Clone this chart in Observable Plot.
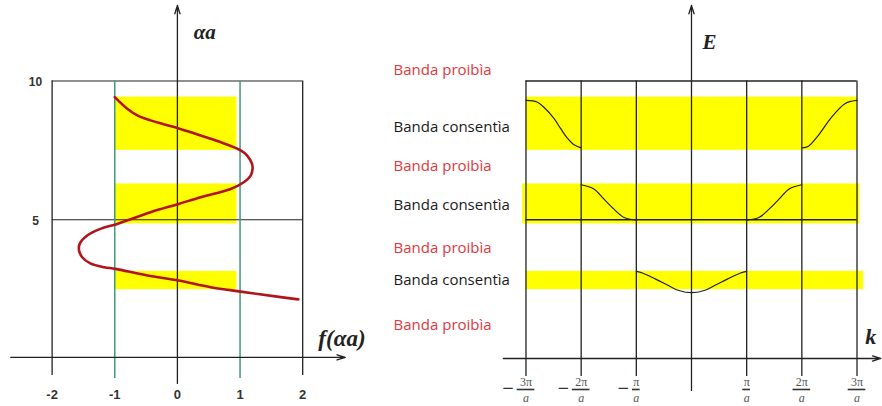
<!DOCTYPE html>
<html>
<head>
<meta charset="utf-8">
<script src="https://cdn.jsdelivr.net/npm/d3@7"></script>
<script src="https://cdn.jsdelivr.net/npm/@observablehq/plot@0.6"></script>
<style>
  html, body { margin: 0; padding: 0; background: #fff; }
  #wrap { position: relative; width: 882px; height: 406px; overflow: hidden; }
  #wrap svg { position: absolute; top: 0; overflow: visible; }
</style>
</head>
<body>
<div id="wrap"></div>
<script>
// Kronig–Penney model: f(αa) versus αa (left) and the band structure E(k) (right)

// ---- left panel ----
const fTicks = [-2, -1, 0, 1, 2];
const aTicks = [5, 10];
// allowed bands (αa ranges where |f| <= 1)
const bandLo = [7.5, 4.85, 2.48];
const bandHi = [9.42, 6.29, 3.14];
// f(αa) traced from top to bottom
const curveF = [-1.0, -0.80, -0.64, -0.43, -0.22, 0.02, 0.26, 0.53, 0.79, 1.01, 1.11, 1.19, 1.20, 1.17, 1.06, 0.85, 0.37, 0.02, -0.43, -0.96, -1.23, -1.44, -1.56, -1.57, -1.52, -1.39, -1.17, -0.99, -0.48, 0.02, 0.53, 1.01, 1.65, 1.93];
const curveA = [9.42, 9.0, 8.76, 8.58, 8.44, 8.29, 8.12, 7.92, 7.71, 7.50, 7.32, 7.02, 6.84, 6.59, 6.35, 6.11, 5.81, 5.57, 5.27, 4.85, 4.67, 4.43, 4.13, 3.89, 3.65, 3.43, 3.29, 3.23, 2.99, 2.81, 2.57, 2.41, 2.21, 2.13];

// ---- right panel ----
const kLines = [-3, -2, -1, 1, 2, 3];
const kNum = ["3π", "2π", "π", "π", "2π", "3π"];
const bandKFrom = [-3, -3.06, -3];
const bandKTo = [3, 3.05, 3.12];
// E(k) branches, one per allowed band segment
const b1LeftK = [-3, -2.8, -2.68, -2.49, -2.37, -2.25, -2.13, -2];
const b1LeftE = [9.30, 9.24, 9.06, 8.64, 8.28, 7.94, 7.70, 7.59];
const b1RightK = [2, 2.12, 2.30, 2.54, 2.78, 2.9, 3];
const b1RightE = [7.59, 7.65, 8.04, 8.70, 9.18, 9.27, 9.30];
const b2LeftK = [-2, -1.77, -1.59, -1.41, -1.23, -1.05, -1];
const b2LeftE = [6.26, 6.11, 5.75, 5.39, 5.09, 5.0, 5.0];
const b2RightK = [1, 1.05, 1.23, 1.41, 1.59, 1.77, 2];
const b2RightE = [5.0, 5.0, 5.09, 5.39, 5.75, 6.11, 6.26];
const b3K = [-1, -0.89, -0.65, -0.41, -0.23, 0, 0.23, 0.41, 0.65, 0.89, 1];
const b3E = [3.14, 3.08, 2.86, 2.62, 2.45, 2.37, 2.45, 2.62, 2.86, 3.08, 3.14];
// band labels: text and energy level
const labelText = ["Banda proibìa", "Banda consentìa", "Banda proibìa", "Banda consentìa", "Banda proibìa", "Banda consentìa", "Banda proibìa"];
const labelE = [10.38, 8.32, 6.92, 5.51, 3.96, 2.81, 1.19];

// ---- derived tables ----
const bands = bandLo.map((lo, i) => ({lo, hi: bandHi[i], k1: bandKFrom[i], k2: bandKTo[i]}));
const curve = curveF.map((f, i) => ({f, a: curveA[i]}));
const branch = (ks, es, id) => ks.map((k, i) => ({k, E: es[i], id}));
const branches = [
  ...branch(b1LeftK, b1LeftE, "b1l"), ...branch(b1RightK, b1RightE, "b1r"),
  ...branch(b2LeftK, b2LeftE, "b2l"), ...branch(b2RightK, b2RightE, "b2r"),
  ...branch(b3K, b3E, "b3")
];
const kTicks = kLines.map((k, i) => ({k, num: kNum[i]}));
const labels = labelText.map((t, i) => ({t, E: labelE[i], forbidden: t.includes("proib")}));

const yDomain = [-1.73, 12.9];
const INK = "#222";
const GREEN = "#3f9a7b";
const YELLOW = "#ffff00";
const SERIF = "'Liberation Serif', 'DejaVu Serif', serif";
const half = d => (d.num.length > 1 ? 0.16 : 0.07);

const left = Plot.plot({
  width: 380, height: 406, margin: 0,
  style: {background: "transparent", overflow: "visible"},
  x: {domain: [-2.824, 3.242], axis: null},
  y: {domain: yDomain, axis: null},
  marks: [
    Plot.rect(bands, {x1: () => -1, x2: () => 0.95, y1: "lo", y2: "hi", fill: YELLOW}),
    // frame lines at αa = 5 and 10
    Plot.ruleY(aTicks, {x1: () => -2, x2: () => 2, y: d => d, stroke: INK, strokeWidth: 1.2}),
    // verticals at f = ±2 (black) and ±1 (green)
    Plot.ruleX(fTicks.filter(d => Math.abs(d) === 2), {x: d => d, y1: () => -0.61, y2: () => 10, stroke: INK, strokeWidth: 1.3}),
    Plot.ruleX(fTicks.filter(d => Math.abs(d) === 1), {x: d => d, y1: () => -0.72, y2: () => 10, stroke: GREEN, strokeWidth: 1.5}),
    // axes
    Plot.arrow([{x1: -2.66, x2: 2.68, y1: 0.04, y2: 0.04}], {x1: "x1", x2: "x2", y1: "y1", y2: "y2", stroke: INK, strokeWidth: 1.3, headLength: 10, headAngle: 35}),
    Plot.arrow([{x1: 0, x2: 0, y1: -0.9, y2: 12.72}], {x1: "x1", x2: "x2", y1: "y1", y2: "y2", stroke: INK, strokeWidth: 1.3, headLength: 10, headAngle: 35}),
    Plot.line(curve, {x: "f", y: "a", curve: "catmull-rom", stroke: "#b3141c", strokeWidth: 2.6}),
    // tick labels
    Plot.text(fTicks, {x: d => d, y: () => 0, dy: 36, text: d => String(d), fontFamily: "'Liberation Sans', Arial, sans-serif", fontWeight: "bold", fontSize: 13, fill: "#333"}),
    Plot.text(aTicks, {x: () => -2.265, y: d => d, dy: 1, text: d => String(d), fontFamily: "'Liberation Sans', Arial, sans-serif", fontWeight: "bold", fontSize: 12, fill: "#333"}),
    // axis titles
    Plot.text(["αa"], {x: () => 0.26, y: () => 11.75, text: d => d, textAnchor: "start", fontFamily: SERIF, fontStyle: "italic", fontWeight: "bold", fontSize: 21, fill: INK}),
    Plot.text(["f(αa)"], {x: () => 2.25, y: () => 0.72, text: d => d, textAnchor: "start", fontFamily: SERIF, fontStyle: "italic", fontWeight: "bold", fontSize: 23, fill: INK})
  ]
});

const right = Plot.plot({
  width: 502, height: 406, margin: 0,
  style: {background: "transparent", overflow: "visible"},
  x: {domain: [-5.637, 3.462], axis: null},
  y: {domain: yDomain, axis: null},
  marks: [
    Plot.rect(bands, {x1: "k1", x2: "k2", y1: "lo", y2: "hi", fill: YELLOW}),
    Plot.ruleY(aTicks, {x1: () => -3, x2: () => 3, y: d => d, stroke: INK, strokeWidth: 1.3}),
    Plot.ruleX(kTicks, {x: "k", y1: () => -0.65, y2: () => 10, stroke: INK, strokeWidth: 1.3}),
    Plot.arrow([{x1: -3.41, x2: 3.43, y1: 0, y2: 0}], {x1: "x1", x2: "x2", y1: "y1", y2: "y2", stroke: INK, strokeWidth: 1.3, headLength: 10, headAngle: 35}),
    Plot.arrow([{x1: 0, x2: 0, y1: -1.15, y2: 12.72}], {x1: "x1", x2: "x2", y1: "y1", y2: "y2", stroke: INK, strokeWidth: 1.3, headLength: 10, headAngle: 35}),
    Plot.line(branches, {x: "k", y: "E", z: "id", curve: "catmull-rom", stroke: INK, strokeWidth: 1.2}),
    // band names
    Plot.text(labels, {x: () => -5.4, y: "E", text: "t", textAnchor: "start", fontFamily: "'Open Sans', sans-serif", fontSize: 15, fill: d => d.forbidden ? "#e0393e" : "#1a1a1a"}),
    // k tick labels: ±nπ/a as stacked fractions
    Plot.text(kTicks, {x: "k", y: () => 0, dy: 24, text: "num", fontFamily: SERIF, fontSize: 12, fill: "#555"}),
    Plot.ruleY(kTicks, {y: () => 0, dy: 31, x1: d => d.k - half(d), x2: d => d.k + half(d), stroke: "#333", strokeWidth: 1.6}),
    Plot.text(kTicks, {x: "k", y: () => 0, dy: 40, text: () => "a", fontFamily: SERIF, fontStyle: "italic", fontSize: 12, fill: "#555"}),
    Plot.text(kTicks.filter(d => d.k < 0 && d.num.length > 1), {x: "k", y: () => 0, dy: 30, dx: -18, text: () => "−", fontFamily: "'DejaVu Sans', sans-serif", fontSize: 15, fill: "#333"}),
    Plot.text(kTicks.filter(d => d.k < 0 && d.num.length === 1), {x: "k", y: () => 0, dy: 30, dx: -13, text: () => "−", fontFamily: "'DejaVu Sans', sans-serif", fontSize: 15, fill: "#333"}),
    // axis titles
    Plot.text(["E"], {x: () => 0.2, y: () => 11.39, text: d => d, textAnchor: "start", fontFamily: SERIF, fontStyle: "italic", fontWeight: "bold", fontSize: 21, fill: INK}),
    Plot.text(["k"], {x: () => 3.15, y: () => 0.76, text: d => d, textAnchor: "start", fontFamily: SERIF, fontStyle: "italic", fontWeight: "bold", fontSize: 22, fill: INK})
  ]
});

left.style.left = "0px";
right.style.left = "380px";
const wrap = document.getElementById("wrap");
wrap.appendChild(left);
wrap.appendChild(right);
</script>
</body>
</html>
